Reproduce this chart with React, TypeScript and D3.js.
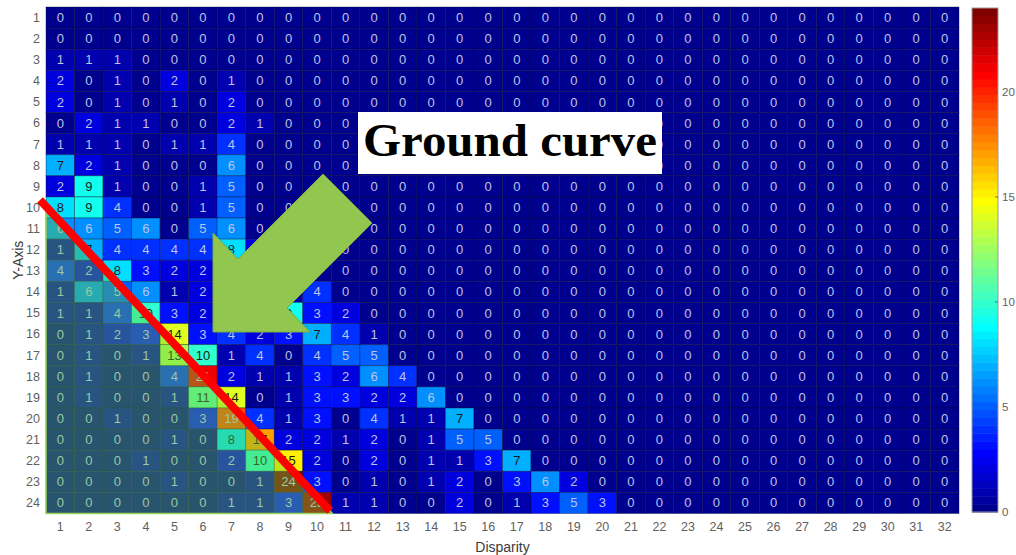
import React from "react";
import * as d3 from "d3";

// ---- data ----
const disparityLabels: number[] = Array.from({ length: 32 }, (_, i) => i + 1);
const yAxisLabels: number[] = Array.from({ length: 24 }, (_, i) => i + 1);
const colorbarTicks: number[] = [0, 5, 10, 15, 20];
const colorMin = 0;
const colorMax = 24;

const row01 = [0,0,0,0,0,0,0,0,0,0,0,0,0,0,0,0,0,0,0,0,0,0,0,0,0,0,0,0,0,0,0,0];
const row02 = [0,0,0,0,0,0,0,0,0,0,0,0,0,0,0,0,0,0,0,0,0,0,0,0,0,0,0,0,0,0,0,0];
const row03 = [1,1,1,0,0,0,0,0,0,0,0,0,0,0,0,0,0,0,0,0,0,0,0,0,0,0,0,0,0,0,0,0];
const row04 = [2,0,1,0,2,0,1,0,0,0,0,0,0,0,0,0,0,0,0,0,0,0,0,0,0,0,0,0,0,0,0,0];
const row05 = [2,0,1,0,1,0,2,0,0,0,0,0,0,0,0,0,0,0,0,0,0,0,0,0,0,0,0,0,0,0,0,0];
const row06 = [0,2,1,1,0,0,2,1,0,0,0,0,0,0,0,0,0,0,0,0,0,0,0,0,0,0,0,0,0,0,0,0];
const row07 = [1,1,1,0,1,1,4,0,0,0,0,0,0,0,0,0,0,0,0,0,0,0,0,0,0,0,0,0,0,0,0,0];
const row08 = [7,2,1,0,0,0,6,0,0,0,0,0,0,0,0,0,0,0,0,0,0,0,0,0,0,0,0,0,0,0,0,0];
const row09 = [2,9,1,0,0,1,5,0,0,0,0,0,0,0,0,0,0,0,0,0,0,0,0,0,0,0,0,0,0,0,0,0];
const row10 = [8,9,4,0,0,1,5,0,0,0,0,0,0,0,0,0,0,0,0,0,0,0,0,0,0,0,0,0,0,0,0,0];
const row11 = [6,6,5,6,0,5,6,0,0,0,0,0,0,0,0,0,0,0,0,0,0,0,0,0,0,0,0,0,0,0,0,0];
const row12 = [1,7,4,4,4,4,8,2,0,0,0,0,0,0,0,0,0,0,0,0,0,0,0,0,0,0,0,0,0,0,0,0];
const row13 = [4,2,8,3,2,2,4,1,0,0,0,0,0,0,0,0,0,0,0,0,0,0,0,0,0,0,0,0,0,0,0,0];
const row14 = [1,6,5,6,1,2,3,2,1,4,0,0,0,0,0,0,0,0,0,0,0,0,0,0,0,0,0,0,0,0,0,0];
const row15 = [1,1,4,10,3,2,5,3,9,3,2,0,0,0,0,0,0,0,0,0,0,0,0,0,0,0,0,0,0,0,0,0];
const row16 = [0,1,2,3,14,3,4,2,3,7,4,1,0,0,0,0,0,0,0,0,0,0,0,0,0,0,0,0,0,0,0,0];
const row17 = [0,1,0,1,13,10,1,4,0,4,5,5,0,0,0,0,0,0,0,0,0,0,0,0,0,0,0,0,0,0,0,0];
const row18 = [0,1,0,0,4,21,2,1,1,3,2,6,4,0,0,0,0,0,0,0,0,0,0,0,0,0,0,0,0,0,0,0];
const row19 = [0,1,0,0,1,11,14,0,1,3,3,2,2,6,0,0,0,0,0,0,0,0,0,0,0,0,0,0,0,0,0,0];
const row20 = [0,0,1,0,0,3,19,4,1,3,0,4,1,1,7,0,0,0,0,0,0,0,0,0,0,0,0,0,0,0,0,0];
const row21 = [0,0,0,0,1,0,8,17,2,2,1,2,0,1,5,5,0,0,0,0,0,0,0,0,0,0,0,0,0,0,0,0];
const row22 = [0,0,0,1,0,0,2,10,15,2,0,2,0,1,1,3,7,0,0,0,0,0,0,0,0,0,0,0,0,0,0,0];
const row23 = [0,0,0,0,1,0,0,1,24,3,0,1,0,1,2,0,3,6,2,0,0,0,0,0,0,0,0,0,0,0,0,0];
const row24 = [0,0,0,0,0,0,1,1,3,23,1,1,0,0,2,0,1,3,5,3,0,0,0,0,0,0,0,0,0,0,0,0];

const countRows: number[][] = [
  row01, row02, row03, row04, row05, row06, row07, row08, row09, row10, row11, row12,
  row13, row14, row15, row16, row17, row18, row19, row20, row21, row22, row23, row24,
];

const annotationText = "Ground curve";

// ---- MATLAB jet(64) ----
function jetMap(m: number): [number, number, number][] {
  const n = Math.ceil(m / 4);
  const u: number[] = [];
  for (let i = 1; i <= n; i++) u.push(i / n);
  for (let i = 1; i < n; i++) u.push(1);
  for (let i = n; i >= 1; i--) u.push(i / n);
  const gOff = Math.ceil(n / 2) - (m % 4 === 1 ? 1 : 0);
  const val = (j: number) => (j >= 1 && j <= u.length ? u[j - 1] : 0);
  const out: [number, number, number][] = [];
  for (let k = 1; k <= m; k++) {
    out.push([val(k - gOff - n), val(k - gOff), val(k - gOff + n)]);
  }
  return out;
}
const JET = jetMap(64);
function colorIndex(v: number) {
  const idx = Math.floor(((v - colorMin) / (colorMax - colorMin)) * JET.length);
  return Math.max(0, Math.min(JET.length - 1, idx));
}
function rgbStr(c: [number, number, number]) {
  return `rgb(${Math.round(c[0] * 255)},${Math.round(c[1] * 255)},${Math.round(c[2] * 255)})`;
}

const W = 1016;
const H = 555;
const plot = { left: 46, right: 959, top: 7, bottom: 513.5 };
const cbar = { left: 972, right: 998, top: 8, bottom: 512 };

export default function App() {
  const x = d3.scaleBand<number>().domain(disparityLabels).range([plot.left, plot.right]).padding(0);
  const y = d3.scaleBand<number>().domain(yAxisLabels).range([plot.top, plot.bottom]).padding(0);
  const cy = d3.scaleLinear().domain([colorMin, colorMax]).range([cbar.bottom, cbar.top]);

  const cells: React.ReactNode[] = [];
  const labels: React.ReactNode[] = [];
  countRows.forEach((row, ri) => {
    const yl = yAxisLabels[ri];
    row.forEach((v, ci) => {
      const xl = disparityLabels[ci];
      const c = JET[colorIndex(v)];
      const lum = 0.2126 * c[0] + 0.7152 * c[1] + 0.0722 * c[2];
      cells.push(
        <rect key={`c${ri}-${ci}`} x={x(xl)} y={y(yl)} width={x.bandwidth()} height={y.bandwidth()}
          fill={rgbStr(c)} stroke="rgba(0,0,40,0.45)" strokeWidth={0.8} />
      );
      labels.push(
        <text key={`t${ri}-${ci}`} x={(x(xl) as number) + x.bandwidth() / 2} y={(y(yl) as number) + y.bandwidth() / 2}
          dy="0.35em" textAnchor="middle" fontSize={13} fontFamily="Liberation Sans, Arial, sans-serif"
          fill={lum > 0.5 ? "#1a1a1a" : "#bfc3e6"}>{v}</text>
      );
    });
  });

  // red "ground curve" line endpoints and overlay triangle
  const lineStart = { x: 40, y: 200 };
  const lineEnd = { x: 330, y: 511 };
  const slope = (lineEnd.y - lineStart.y) / (lineEnd.x - lineStart.x);
  const triTopY = lineStart.y + (plot.left - lineStart.x) * slope;
  const triRightX = lineStart.x + (plot.bottom - lineStart.y) / slope;
  const tri = `${plot.left},${triTopY} ${plot.left},${plot.bottom} ${triRightX},${plot.bottom}`;

  const arrow = "213,332 213,233 238,259 323,174 372,223 287,308 310,332";

  const cbBands = JET.map((c, i) => {
    const v0 = colorMin + (i / JET.length) * (colorMax - colorMin);
    const v1 = colorMin + ((i + 1) / JET.length) * (colorMax - colorMin);
    return (
      <rect key={`cb${i}`} x={cbar.left} y={cy(v1)} width={cbar.right - cbar.left} height={cy(v0) - cy(v1) + 0.5}
        fill={rgbStr(c)} />
    );
  });

  return (
    <div style={{ position: "absolute", left: 0, top: 0 }}>
      <svg width={W} height={H} style={{ display: "block", background: "#fff" }}>
        <g>{cells}</g>
        <g>{labels}</g>
        {/* translucent overlay below the ground line */}
        <polygon points={tri} fill="rgb(100,210,60)" fillOpacity={0.4} stroke="#9bd65a" strokeWidth={1.5} />
        <line x1={lineStart.x} y1={lineStart.y} x2={lineEnd.x} y2={lineEnd.y} stroke="#ff0000" strokeWidth={8} />
        {/* y tick labels */}
        {yAxisLabels.map((l) => (
          <text key={`y${l}`} x={40} y={(y(l) as number) + y.bandwidth() / 2} dy="0.35em" textAnchor="end"
            fontSize={12.5} fontFamily="Liberation Sans, Arial, sans-serif" fill="#5f5f5f">{l}</text>
        ))}
        {/* x tick labels */}
        {disparityLabels.map((l) => (
          <text key={`x${l}`} x={(x(l) as number) + x.bandwidth() / 2} y={527} dy="0.35em" textAnchor="middle"
            fontSize={12.5} fontFamily="Liberation Sans, Arial, sans-serif" fill="#5f5f5f">{l}</text>
        ))}
        <text x={(plot.left + plot.right) / 2} y={547} dy="0.35em" textAnchor="middle" fontSize={14}
          fontFamily="Liberation Sans, Arial, sans-serif" fill="#3a3a3a">Disparity</text>
        <text transform={`translate(18,${(plot.top + plot.bottom) / 2}) rotate(-90)`} dy="0.35em" textAnchor="middle"
          fontSize={14} fontFamily="Liberation Sans, Arial, sans-serif" fill="#3a3a3a">Y-Axis</text>
        {/* colorbar */}
        <g>{cbBands}</g>
        <rect x={cbar.left} y={cbar.top} width={cbar.right - cbar.left} height={cbar.bottom - cbar.top}
          fill="none" stroke="#9a9a9a" strokeWidth={1} />
        {colorbarTicks.map((t) => (
          <g key={`cbt${t}`}>
            {t > 0 && <line x1={cbar.right - 3} x2={cbar.right} y1={cy(t)} y2={cy(t)} stroke="#555" strokeWidth={0.8} />}
            <text x={1002} y={cy(t)} dy="0.35em" fontSize={11.5} fontFamily="Liberation Sans, Arial, sans-serif"
              fill="#5f5f5f">{t}</text>
          </g>
        ))}
        {/* arrow */}
        <polygon points={arrow} fill="#92c74f" stroke="#7aaa3e" strokeWidth={1} />
        {/* annotation box */}
        <rect x={358} y={112} width={304} height={62} fill="#ffffff" />
        <text x={363} y={156} fontSize={46} fontWeight="bold" fontFamily="Liberation Serif, Times New Roman, serif"
          fill="#000" textLength={294} lengthAdjust="spacingAndGlyphs">{annotationText}</text>
      </svg>
    </div>
  );
}
